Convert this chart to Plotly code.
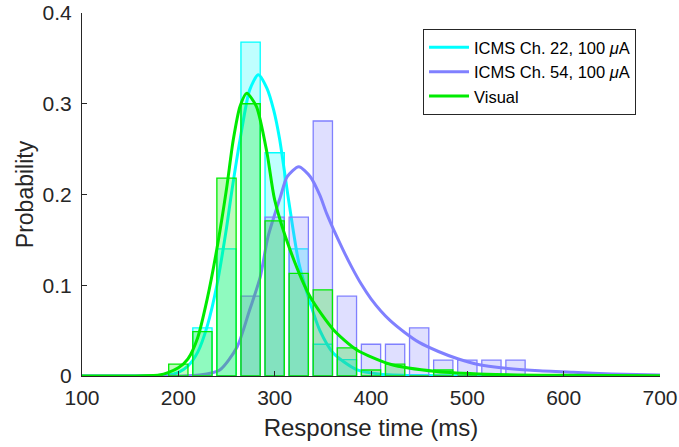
import plotly.graph_objects as go

# ---- histogram data (bin centres, ms) ----
bin_centers = [200, 225, 250, 275, 300, 325, 350, 375, 400, 425, 450, 475, 500, 525, 550]
hist_ch22 = [0, 0.053, 0.140, 0.368, 0.246, 0.140, 0.035, 0.018, 0, 0, 0, 0, 0, 0, 0]
hist_ch54 = [0, 0, 0, 0.088, 0.175, 0.175, 0.281, 0.088, 0.035, 0.035, 0.053, 0.0175, 0.0175, 0.0175, 0.0175]
hist_vis = [0.013, 0.049, 0.218, 0.300, 0.171, 0.113, 0.095, 0.031, 0.0066, 0.013, 0, 0.0066, 0, 0, 0]

# ---- fitted curves ----
fit22_x = [100, 150, 190, 200, 210, 220, 230, 240, 250, 255, 264, 274, 283, 292, 299, 305, 315, 325, 337, 347, 361, 385, 410, 450, 500, 600, 700]
fit22_y = [0, 0, 0.001, 0.004, 0.011, 0.026, 0.055, 0.100, 0.163, 0.200, 0.260, 0.315, 0.332, 0.317, 0.293, 0.262, 0.190, 0.125, 0.080, 0.050, 0.025, 0.007, 0.002, 0.0005, 0.0001, 0, 0]

fit54_x = [100, 150, 200, 222, 243, 261, 274, 285, 293, 306, 313, 325, 337, 347, 354, 371, 380, 390, 400, 410, 420, 435, 450, 470, 490, 510, 540, 570, 610, 650, 700]
fit54_y = [0, 0, 0, 0.001, 0.0066, 0.032, 0.0727, 0.109, 0.153, 0.1976, 0.2196, 0.2306, 0.2196, 0.199, 0.179, 0.139, 0.120, 0.101, 0.085, 0.072, 0.061, 0.048, 0.037, 0.027, 0.019, 0.013, 0.0085, 0.006, 0.004, 0.0022, 0.001]

fitvis_x = [100, 150, 180, 190, 200, 210, 220, 230, 240, 250, 257, 264, 271, 281, 292, 300, 316, 337, 361, 385, 420, 468, 520, 600, 700]
fitvis_y = [0, 0, 0.001, 0.004, 0.009, 0.019, 0.042, 0.085, 0.140, 0.206, 0.260, 0.297, 0.3115, 0.297, 0.246, 0.194, 0.139, 0.087, 0.051, 0.029, 0.013, 0.005, 0.002, 0.0008, 0.0002]

x_ticks = [100, 200, 300, 400, 500, 600, 700]
y_ticks = [0, 0.1, 0.2, 0.3, 0.4]

names = ["ICMS Ch. 22, 100 <i>μ</i>A", "ICMS Ch. 54, 100 <i>μ</i>A", "Visual"]
line_colors = ["rgb(0,255,255)", "rgb(128,128,255)", "rgb(0,235,0)"]
fill_colors = ["rgba(0,255,255,0.25)", "rgba(128,128,255,0.25)", "rgba(0,235,0,0.25)"]

FONT = "Liberation Sans, Arial, sans-serif"
fig = go.Figure()

hists = [hist_ch22, hist_ch54, hist_vis]
fits = [(fit22_x, fit22_y), (fit54_x, fit54_y), (fitvis_x, fitvis_y)]
axes = [("x", "y"), ("x2", "y2"), ("x3", "y3")]

for i in range(3):
    xa, ya = axes[i]
    fig.add_trace(go.Bar(
        x=bin_centers, y=hists[i], width=20,
        marker=dict(color=fill_colors[i], line=dict(color=line_colors[i], width=1.3)),
        showlegend=False, xaxis=xa, yaxis=ya, hoverinfo="skip"))
    fig.add_trace(go.Scatter(
        x=fits[i][0], y=fits[i][1], mode="lines",
        line=dict(color=line_colors[i], width=3, shape="spline", smoothing=0.7),
        name=names[i], legendgroup=str(i), xaxis=xa, yaxis=ya))

axcol = "#262626"
common_x = dict(range=[100, 700], showgrid=False, zeroline=False, automargin=False)
common_y = dict(range=[0, 0.4], showgrid=False, zeroline=False, automargin=False)

fig.update_layout(
    width=679, height=447,
    margin=dict(l=82, r=19, t=13, b=71),
    paper_bgcolor="white", plot_bgcolor="white",
    barmode="overlay",
    font=dict(family=FONT, color=axcol),
    xaxis=dict(**common_x, tickvals=x_ticks, ticks="inside", ticklen=5, tickcolor=axcol,
               showline=True, linecolor=axcol, linewidth=1, ticklabelstandoff=3,
               ticklabeloverflow="allow",
               tickfont=dict(size=21, color=axcol),
               title=dict(text="Response time (ms)", font=dict(size=24, color=axcol), standoff=10)),
    yaxis=dict(**common_y, tickvals=y_ticks, ticktext=["0", "0.1", "0.2", "0.3", "0.4"],
               ticks="inside", ticklen=5, tickcolor=axcol, ticklabelstandoff=5,
               ticklabeloverflow="allow",
               showline=True, linecolor=axcol, linewidth=1,
               tickfont=dict(size=21, color=axcol),
               title=dict(text="Probability", font=dict(size=23, color=axcol), standoff=2)),
    xaxis2=dict(**common_x, overlaying="x", anchor="y2", visible=False),
    yaxis2=dict(**common_y, overlaying="y", anchor="x2", visible=False),
    xaxis3=dict(**common_x, overlaying="x", anchor="y3", visible=False),
    yaxis3=dict(**common_y, overlaying="y", anchor="x3", visible=False),
    legend=dict(x=0.59, y=0.956, xanchor="left", yanchor="top",
                bgcolor="white", bordercolor=axcol, borderwidth=1,
                font=dict(size=16.5, color="#000000", family=FONT),
                itemwidth=40, tracegroupgap=0),
)

# remove the default 8px page margin so the figure fills the window exactly
fig.write_html("out.html", config={"displayModeBar": False},
               post_script="document.body.style.margin='0';")
